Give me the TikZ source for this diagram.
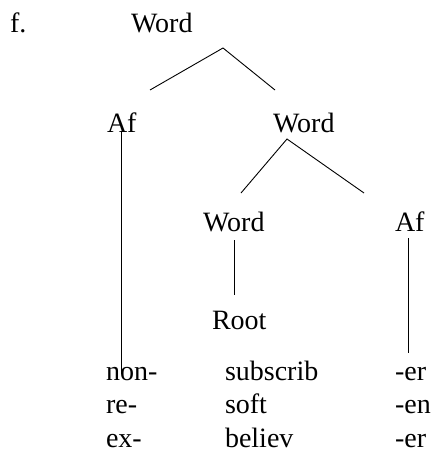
\documentclass[tikz,border=0pt]{standalone}
\usepackage{fontspec}
\setmainfont{Liberation Serif}
\begin{document}
\begin{tikzpicture}[x=1pt,y=-1pt,
  lbl/.style={anchor=base west,inner sep=0pt,outer sep=0pt,font=\fontsize{28}{33}\selectfont},
  branch/.style={line width=0.9pt,line cap=butt,line join=miter}]
\useasboundingbox (0,0) rectangle (432,450);
% labels
\node[lbl] (ex) at (10,32) {f.};
\node[lbl] (w1) at (131,32) {Word};
\node[lbl] (af1) at (107,132) {Af};
\node[lbl] (w2) at (273,132) {Word};
\node[lbl] (w3) at (203,231) {Word};
\node[lbl] (af2) at (395,231) {Af};
\node[lbl] (root) at (212,329) {Root};
\node[lbl] (p1) at (106,380) {non-};
\node[lbl] (p2) at (106,413) {re-};
\node[lbl] (p3) at (106,447) {ex-};
\node[lbl] (r1) at (225,380) {subscrib};
\node[lbl] (r2) at (225,413) {soft};
\node[lbl] (r3) at (225,447) {believ};
\node[lbl] (s1) at (395,380) {-er};
\node[lbl] (s2) at (395,413) {-en};
\node[lbl] (s3) at (395,447) {-er};
% branch end points
\coordinate (w1b) at (223,48);
\coordinate (af1t) at (150,90);
\coordinate (w2t) at (275,90);
\coordinate (w2b) at (287,139);
\coordinate (w3t) at (241,193);
\coordinate (af2t) at (364,193);
\coordinate (w3b) at (234,240);
\coordinate (roott) at (234,295);
\coordinate (af2b) at (408,238);
\coordinate (s1t) at (408,353);
\coordinate (af1b) at (121,131);
\coordinate (p1t) at (121,374);
% branches
\draw[branch] (af1t) -- (w1b) -- (w2t);
\draw[branch] (w3t) -- (w2b) -- (af2t);
\draw[branch] (w3b) -- (roott);
\draw[branch] (af2b) -- (s1t);
\draw[branch] (af1b) -- (p1t);
\end{tikzpicture}
\end{document}
